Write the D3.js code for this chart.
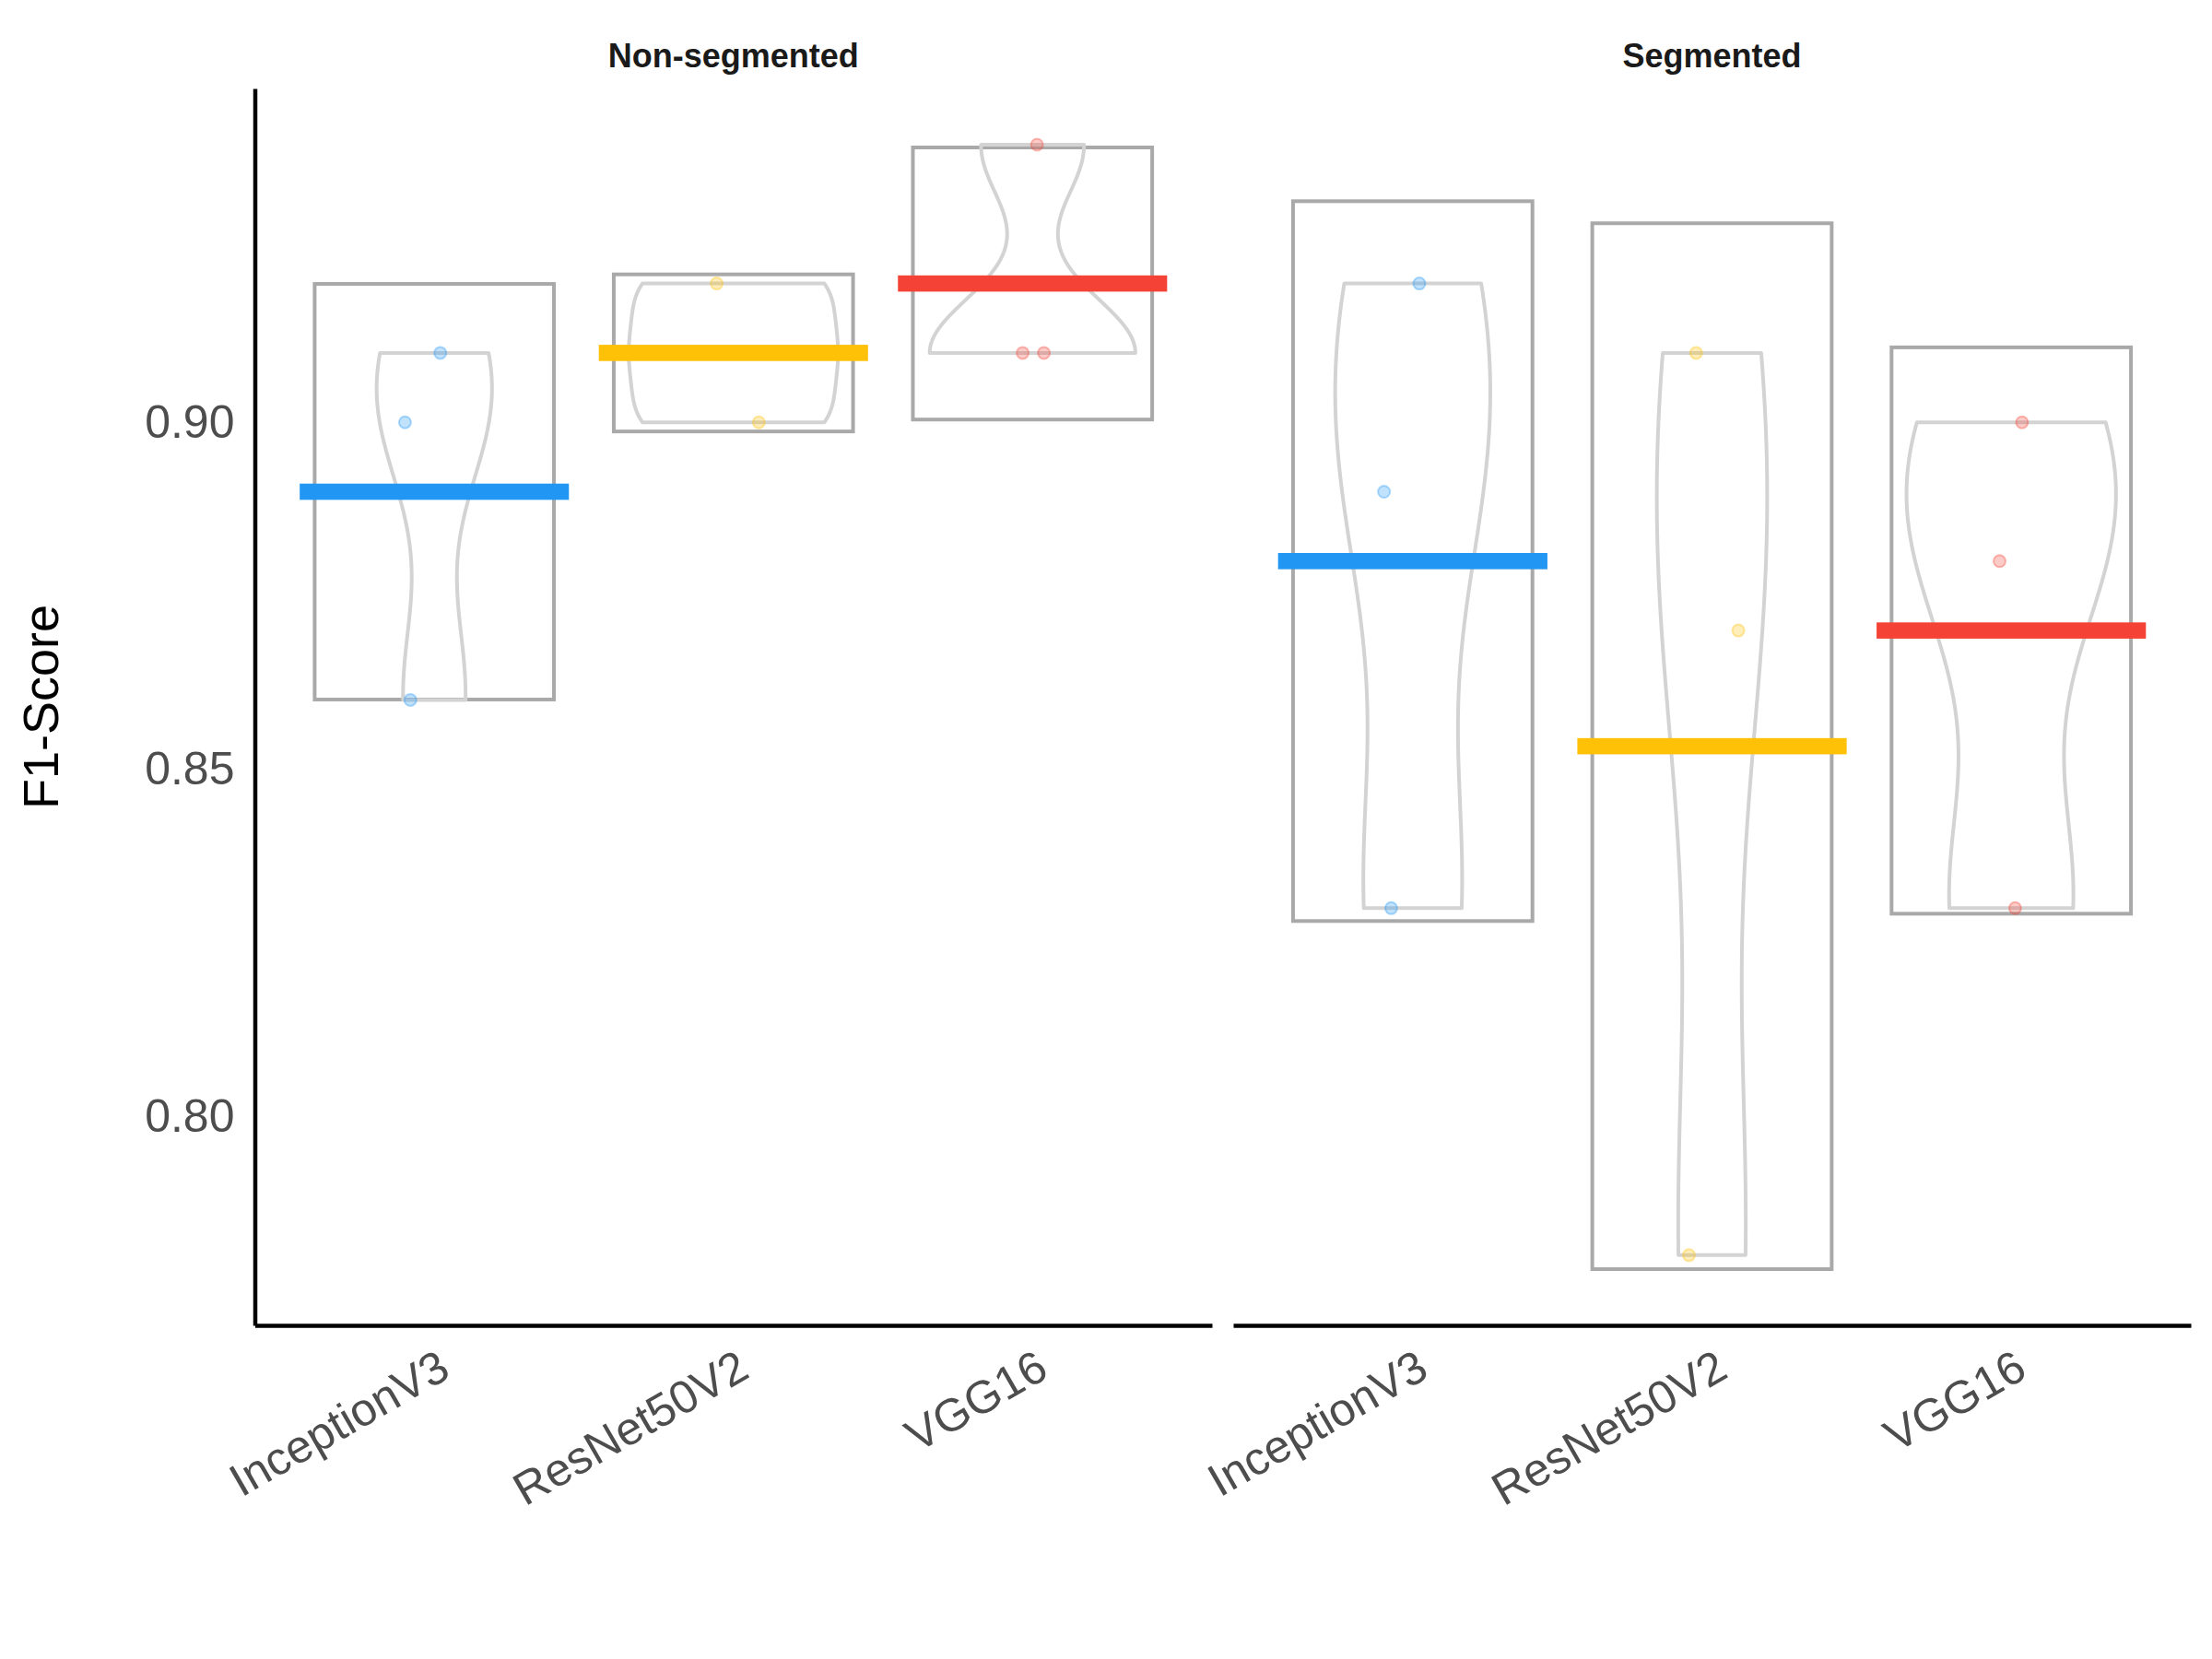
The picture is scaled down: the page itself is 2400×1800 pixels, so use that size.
<!DOCTYPE html>
<html>
<head>
<meta charset="utf-8">
<script src="https://cdnjs.cloudflare.com/ajax/libs/d3/7.8.5/d3.min.js"></script>
<style>
  body { margin: 0; background: #fff; }
  svg { display: block; font-family: "Liberation Sans", Arial, Helvetica, sans-serif; }
</style>
</head>
<body>
<div id="chart"></div>
<script>
// values
var models = ["InceptionV3", "ResNet50V2", "VGG16"];
var panels = ["Non-segmented", "Segmented"];
var modelColors = ["#2196F3", "#FFC107", "#F44336"];
var nonSegScores = [[0.91, 0.90, 0.86], [0.92, 0.91, 0.90], [0.94, 0.91, 0.91]];
var segScores = [[0.92, 0.89, 0.83], [0.91, 0.87, 0.78], [0.90, 0.88, 0.83]];
// horizontal jitter of each point, in band steps
var nonSegJitter = [[0.020, -0.098, -0.080], [-0.056, 0.0, 0.085], [0.015, -0.033, 0.038]];
var segJitter = [[0.022, -0.096, -0.072], [-0.053, 0.088, -0.077], [0.036, -0.039, 0.013]];
var yTicks = [0.80, 0.85, 0.90];

var width = 2400, height = 1800;
var plotTop = 96, plotBottom = 1438;
var panelX = [[276.5, 1315], [1338, 2377]];

var scores = [nonSegScores, segScores];
var jitters = [nonSegJitter, segJitter];

function bwNrd0(v){
    var s = d3.deviation(v);
    var sorted = v.slice().sort(d3.ascending);
    var iqr = d3.quantileSorted(sorted, 0.75) - d3.quantileSorted(sorted, 0.25);
    var lo = Math.min(s, iqr / 1.34);
    if (!lo) lo = s || Math.abs(sorted[0]) || 1;
    return 0.9 * lo * Math.pow(v.length, -0.2);
}

function kde(v){
    var bw = bwNrd0(v);
    var lo = d3.min(v), hi = d3.max(v);
    return d3.range(512).map(function(i){
        var y = lo + (hi - lo) * i / 511;
        var dens = d3.mean(v, function(x){
            var z = (y - x) / bw;
            return Math.exp(-0.5 * z * z) / (bw * Math.sqrt(2 * Math.PI));
        });
        return {y: y, d: dens};
    });
}

// build group stats
var groups = [];
panels.forEach(function(p, pi){
    models.forEach(function(m, mi){
        var v = scores[pi][mi];
        var mean = d3.mean(v);
        var se = d3.deviation(v) / Math.sqrt(v.length);
        groups.push({
            panel: pi, model: m, mi: mi, values: v, jitter: jitters[pi][mi],
            mean: mean, lo: mean - 1.96 * se, hi: mean + 1.96 * se,
            dens: kde(v)
        });
    });
});

var allLo = d3.min(groups, function(g){ return Math.min(g.lo, d3.min(g.values)); });
var allHi = d3.max(groups, function(g){ return Math.max(g.hi, d3.max(g.values)); });
var pad = (allHi - allLo) * 0.05;

var yScale = d3.scaleLinear().domain([allLo - pad, allHi + pad]).range([plotBottom, plotTop]);

var svg = d3.select('#chart').append('svg')
    .attr('width', width)
    .attr('height', height);

panels.forEach(function(p, pi){
    var xScale = d3.scalePoint().domain(models).range(panelX[pi]).padding(0.6);
    var step = xScale.step();
    var g = svg.append('g');
    var pg = groups.filter(function(d){ return d.panel == pi; });
    var maxDens = d3.max(pg, function(d){ return d3.max(d.dens, function(e){ return e.d; }); });

    // confidence boxes
    g.selectAll('rect.box')
        .data(pg)
        .join('rect')
        .attr('class', 'box')
        .attr('x', function(d){ return xScale(d.model) - 0.4 * step; })
        .attr('width', 0.8 * step)
        .attr('y', function(d){ return yScale(d.hi); })
        .attr('height', function(d){ return yScale(d.lo) - yScale(d.hi); })
        .attr('fill', 'none')
        .attr('stroke', '#A9A9A9')
        .attr('stroke-width', 4);

    // violins
    g.selectAll('path.violin')
        .data(pg)
        .join('path')
        .attr('class', 'violin')
        .attr('d', function(d){
            var cx = xScale(d.model);
            var half = function(e){ return e.d / maxDens * 0.35 * step; };
            var right = d.dens.map(function(e){ return [cx + half(e), yScale(e.y)]; });
            var left = d.dens.slice().reverse().map(function(e){ return [cx - half(e), yScale(e.y)]; });
            return d3.line()(right.concat(left)) + 'Z';
        })
        .attr('fill', 'none')
        .attr('stroke', '#D3D3D3')
        .attr('stroke-width', 4)
        .attr('stroke-linejoin', 'round');

    // points
    pg.forEach(function(d){
        g.selectAll(null)
            .data(d.values)
            .join('circle')
            .attr('cx', function(v, i){ return xScale(d.model) + d.jitter[i] * step; })
            .attr('cy', function(v){ return yScale(v); })
            .attr('r', 6.5)
            .attr('fill', modelColors[d.mi])
            .attr('fill-opacity', 0.28)
            .attr('stroke', modelColors[d.mi])
            .attr('stroke-opacity', 0.35)
            .attr('stroke-width', 2);
    });

    // mean bars
    g.selectAll('rect.mean')
        .data(pg)
        .join('rect')
        .attr('class', 'mean')
        .attr('x', function(d){ return xScale(d.model) - 0.45 * step; })
        .attr('width', 0.9 * step)
        .attr('y', function(d){ return yScale(d.mean) - 8.8; })
        .attr('height', 17.6)
        .attr('fill', function(d){ return modelColors[d.mi]; });

    // x axis
    var xAxis = g.append('g')
        .attr('transform', 'translate(0,' + plotBottom + ')')
        .call(d3.axisBottom(xScale).tickSize(0).tickSizeOuter(0));
    xAxis.select('.domain').attr('stroke', '#000').attr('stroke-width', 4.5);
    xAxis.selectAll('text')
        .attr('x', 0).attr('y', 0).attr('dy', 0)
        .attr('transform', 'translate(19,55) rotate(-30)')
        .style('text-anchor', 'end')
        .style('font-size', '50px')
        .style('font-family', '"Liberation Sans", Arial, sans-serif')
        .attr('fill', '#4D4D4D');

    // strip label
    svg.append('text')
        .attr('x', (panelX[pi][0] + panelX[pi][1]) / 2)
        .attr('y', 73)
        .attr('text-anchor', 'middle')
        .style('font-size', '36px')
        .style('font-weight', 'bold')
        .attr('fill', '#1A1A1A')
        .text(p);
});

// y axis on the left panel only
var yAxis = svg.append('g')
    .attr('transform', 'translate(' + panelX[0][0] + ',0)')
    .call(d3.axisLeft(yScale).tickValues(yTicks).tickFormat(d3.format('.2f')).tickSize(0).tickSizeOuter(0).tickPadding(22));
yAxis.select('.domain').attr('stroke', '#000').attr('stroke-width', 4.5);
yAxis.selectAll('text')
    .style('font-size', '50px')
    .style('font-family', '"Liberation Sans", Arial, sans-serif')
    .attr('fill', '#4D4D4D');

svg.append('text')
    .attr('transform', 'translate(63,' + ((plotTop + plotBottom) / 2) + ') rotate(-90)')
    .attr('text-anchor', 'middle')
    .style('font-size', '54px')
    .attr('fill', '#000')
    .text('F1-Score');
</script>
</body>
</html>
